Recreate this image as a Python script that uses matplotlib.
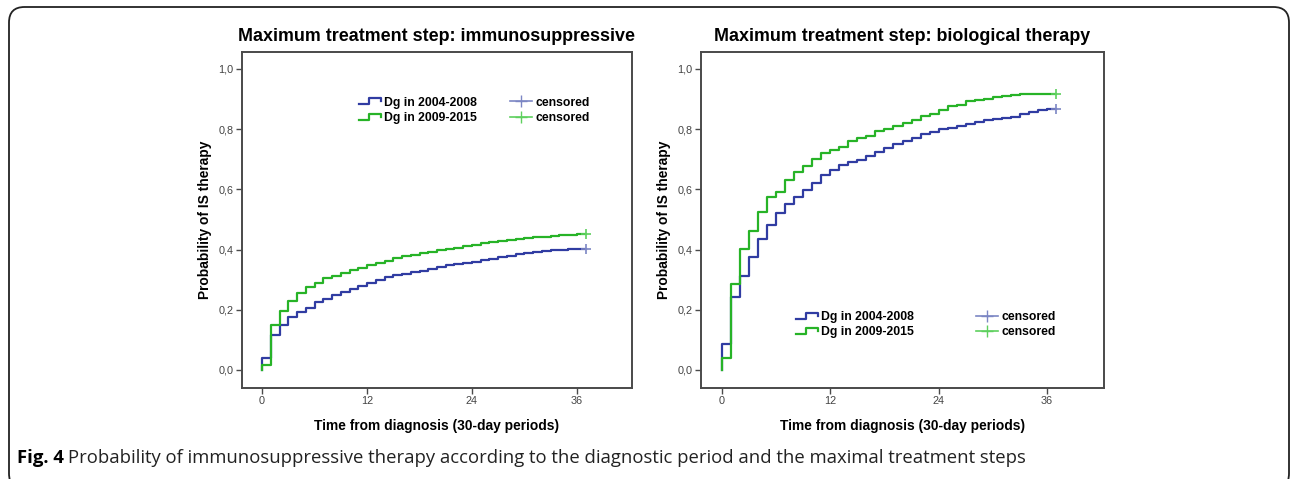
import matplotlib
matplotlib.use("Agg")
import matplotlib.pyplot as plt
import numpy as np
from matplotlib.lines import Line2D
from matplotlib.legend_handler import HandlerBase
from matplotlib.patches import FancyBboxPatch

# months (30-day periods) at which the step curves change
months = list(range(0, 37))
end_time = 37

# left panel: maximum treatment step immunosuppressive
is_early = [0.04, 0.115, 0.15, 0.175, 0.192, 0.207, 0.224, 0.236, 0.25, 0.26,
            0.27, 0.28, 0.29, 0.30, 0.31, 0.315, 0.32, 0.325, 0.33, 0.336,
            0.342, 0.347, 0.352, 0.356, 0.36, 0.365, 0.37, 0.375, 0.38, 0.385,
            0.389, 0.392, 0.395, 0.397, 0.399, 0.401, 0.402]
is_late = [0.015, 0.15, 0.197, 0.229, 0.255, 0.277, 0.29, 0.306, 0.313, 0.322,
           0.332, 0.34, 0.35, 0.356, 0.362, 0.372, 0.377, 0.382, 0.387, 0.392,
           0.397, 0.401, 0.405, 0.41, 0.415, 0.42, 0.426, 0.429, 0.432, 0.434,
           0.437, 0.44, 0.442, 0.445, 0.447, 0.449, 0.451]

# right panel: maximum treatment step biological therapy
bio_early = [0.086, 0.242, 0.313, 0.375, 0.436, 0.48, 0.522, 0.551, 0.574, 0.596,
             0.621, 0.646, 0.665, 0.682, 0.69, 0.698, 0.71, 0.724, 0.737, 0.752,
             0.762, 0.772, 0.782, 0.79, 0.8, 0.805, 0.81, 0.818, 0.825, 0.83,
             0.835, 0.837, 0.84, 0.85, 0.858, 0.864, 0.867]
bio_late = [0.041, 0.285, 0.402, 0.46, 0.523, 0.574, 0.59, 0.63, 0.656, 0.676,
            0.70, 0.72, 0.73, 0.74, 0.76, 0.77, 0.778, 0.795, 0.80, 0.81,
            0.82, 0.83, 0.843, 0.85, 0.864, 0.875, 0.88, 0.894, 0.896, 0.90,
            0.905, 0.91, 0.914, 0.915, 0.915, 0.917, 0.918]

series_labels = ["Dg in 2004-2008", "Dg in 2009-2015"]
titles = ["Maximum treatment step: immunosuppressive",
          "Maximum treatment step: biological therapy"]

BLUE = "#303ca2"
GREEN = "#27b327"
BLUE_C = "#7c86c4"
GREEN_C = "#5ed05e"
FRAME = "#4a4a4a"
FONT = ["Liberation Sans", "DejaVu Sans"]

plt.rcParams["font.family"] = FONT


class StepHandler(HandlerBase):
    def create_artists(self, legend, orig_handle, xdescent, ydescent,
                       width, height, fontsize, trans):
        x0 = -xdescent
        y0 = -ydescent
        xs = [x0, x0 + 0.45 * width, x0 + 0.45 * width, x0 + width, x0 + width]
        ys = [y0 + 0.15 * height, y0 + 0.15 * height, y0 + 0.85 * height,
              y0 + 0.85 * height, y0 + 0.5 * height]
        ln = Line2D(xs, ys, color=orig_handle.get_color(),
                    lw=orig_handle.get_linewidth(), transform=trans)
        return [ln]


fig = plt.figure(figsize=(12.92, 4.79), dpi=100)

# rounded frame around the whole figure (bottom edge runs off the image)
frame = FancyBboxPatch((9 / 1292, -10 / 479), 1280 / 1292, 482 / 479,
                       boxstyle="round,pad=0,rounding_size=0.012",
                       transform=fig.transFigure, fill=False,
                       ec="#222222", lw=1.3, mutation_aspect=1292 / 479)
fig.patches.append(frame)

ax1 = fig.add_axes([242 / 1292, 1 - 388 / 479, 390 / 1292, 336 / 479])
ax2 = fig.add_axes([701 / 1292, 1 - 388 / 479, 403 / 1292, 336 / 479])

panels = [
    (ax1, is_early, is_late, (0.284, 0.885), 2.75),
    (ax2, bio_early, bio_late, (0.221, 0.247), 5.1),
]

for i, (ax, early, late, anchor, colsp) in enumerate(panels):
    handles = []
    for vals, col in ((early, BLUE), (late, GREEN)):
        xs = [0] + months + [end_time]
        ys = [0] + vals + [vals[-1]]
        ln, = ax.plot(xs, ys, drawstyle="steps-post", color=col, lw=1.6)
        handles.append(ln)
    ax.plot([end_time], [early[-1]], "+", color=BLUE_C, ms=7, mew=1.2)
    ax.plot([end_time], [late[-1]], "+", color=GREEN_C, ms=7, mew=1.2)

    cens = [Line2D([], [], color=BLUE_C, marker="+", ms=8, lw=1.2),
            Line2D([], [], color=GREEN_C, marker="+", ms=8, lw=1.2)]
    ax.legend(handles + cens, series_labels + ["censored", "censored"],
              ncol=2, loc="upper left", bbox_to_anchor=anchor,
              frameon=False, handlelength=1.8, handletextpad=0.25,
              columnspacing=colsp, labelspacing=0.25, borderpad=0,
              prop={"weight": "bold", "size": 8.8},
              handler_map={handles[0]: StepHandler(), handles[1]: StepHandler()})

    ax.set_xlim(-2.3, 42.3)
    ax.set_ylim(-0.06, 1.056)
    ax.set_xticks([0, 12, 24, 36])
    yt = np.arange(0, 1.01, 0.2)
    ax.set_yticks(yt)
    ax.set_yticklabels([f"{v:.1f}".replace(".", ",") for v in yt])
    ax.tick_params(direction="out", length=4, width=1, color=FRAME,
                   labelsize=7.8, labelcolor="#444444", pad=2)
    for sp in ax.spines.values():
        sp.set_color(FRAME)
        sp.set_linewidth(1.4)
    ax.set_title(titles[i], fontsize=12.9, fontweight="bold", pad=8)
    ax.set_xlabel("Time from diagnosis (30-day periods)", fontsize=9.9,
                  fontweight="bold", labelpad=9)
    ax.set_ylabel("Probability of IS therapy", fontsize=9.9,
                  fontweight="bold", labelpad=5)

# caption
cap_font = ["Open Sans", "DejaVu Sans"]
t1 = fig.text(17 / 1292, 1 - 458 / 479, "Fig. 4", fontsize=13.3,
              fontweight="bold", family=cap_font, va="center")
fig.canvas.draw()
bb = t1.get_window_extent()
fig.text((bb.x1 + 4) / 1292, 1 - 458 / 479,
         "Probability of immunosuppressive therapy according to the diagnostic "
         "period and the maximal treatment steps",
         fontsize=13.3, family=cap_font, va="center", color="#222222")

fig.savefig("out.png", dpi=100)
